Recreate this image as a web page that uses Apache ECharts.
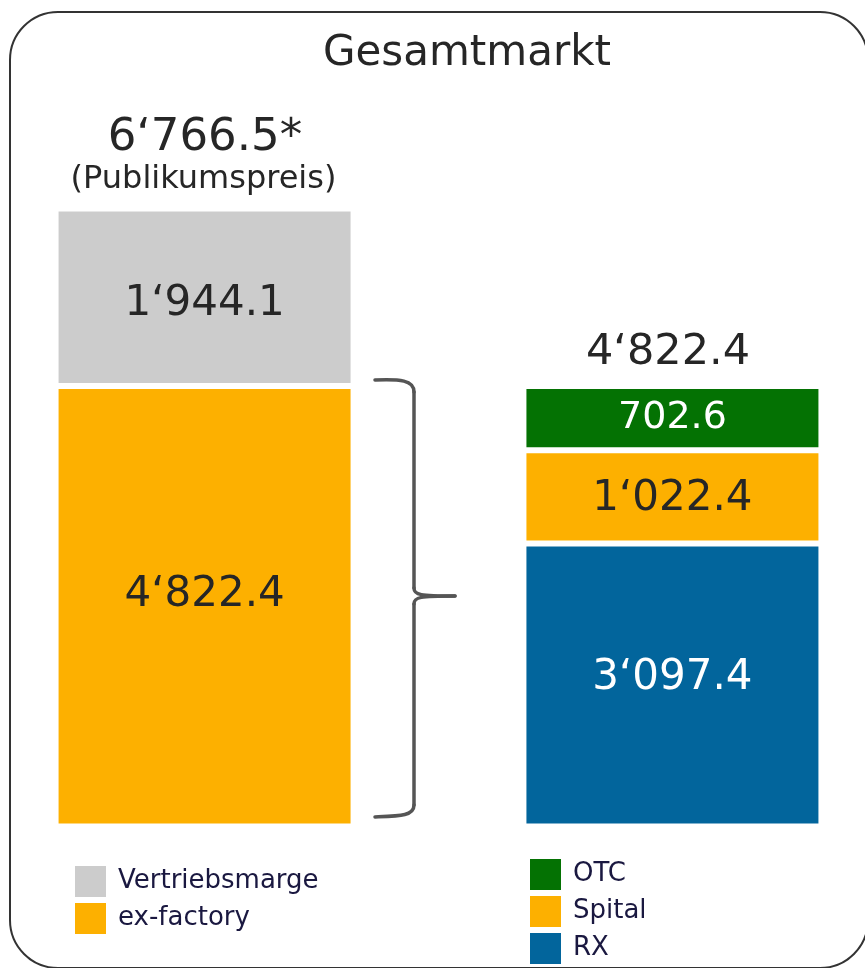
<!DOCTYPE html>
<html><head><meta charset="utf-8">
<script src="https://cdn.jsdelivr.net/npm/echarts@6/dist/echarts.min.js"></script>
<style>html,body{margin:0;padding:0;background:#fff}#c{width:865px;height:968px}</style>
</head><body><div id="c"></div>
<script>
const title = 'Gesamtmarkt';
const leftNames = ['ex-factory', 'Vertriebsmarge'];
const leftValues = [4822.4, 1944.1];
const rightNames = ['RX', 'Spital', 'OTC'];
const rightValues = [3097.4, 1022.4, 702.6];
const leftNote = '(Publikumspreis)';
const colors = {'Vertriebsmarge':'#cccccc','ex-factory':'#fdb000','OTC':'#047203','Spital':'#fdb000','RX':'#02659c'};
const labelColors = {'Vertriebsmarge':'#262626','ex-factory':'#262626','OTC':'#ffffff','Spital':'#262626','RX':'#ffffff'};
const labelSizes = {'Vertriebsmarge':42,'ex-factory':42,'OTC':38,'Spital':42,'RX':42};
const labelOffsets = {'Vertriebsmarge':[0,7],'ex-factory':[0,-11],'OTC':[0,0],'Spital':[0,2],'RX':[0,-7]};

function fmt(v){
  const s = v.toFixed(1).split('.');
  return s[0].replace(/\B(?=(\d{3})+(?!\d))/g, '\u2018') + '.' + s[1];
}
const leftTotal = leftValues.reduce((a,b)=>a+b,0);
const rightTotal = rightValues.reduce((a,b)=>a+b,0);
const FONT = 'DejaVu Sans';

const series = [];
leftNames.forEach((n,i)=>series.push({name:n,type:'bar',stack:'L',data:[leftValues[i]]}));
rightNames.forEach((n,i)=>series.push({name:n,type:'bar',stack:'R',data:[rightValues[i]]}));
series.forEach(s=>{
  s.barWidth = 298;
  s.barGap = '57%';
  s.itemStyle = {color:colors[s.name], borderColor:'#ffffff', borderWidth:3};
  s.label = {show:true, position:'inside', formatter:p=>fmt(p.value), color:labelColors[s.name], fontSize:labelSizes[s.name], fontFamily:FONT, offset:labelOffsets[s.name]};
  s.emphasis = {disabled:true};
});

const bs = {fill:null, stroke:'#555555', lineWidth:3.5, lineCap:'round'};
const legendText = {fontFamily:FONT, fontSize:26, lineHeight:24, color:'#1a1840', padding:[6,0,0,7]};
const legendItem = {borderWidth:0};
const chart = echarts.init(document.getElementById('c'), null, {renderer:'canvas'});
chart.setOption({
  animation:false,
  backgroundColor:'#ffffff',
  title:[
    {text:title, left:462, top:28, textAlign:'center', textStyle:{fontFamily:FONT, fontSize:42, fontWeight:'normal', color:'#262626'}},
    {text:fmt(leftTotal)+'*', left:200, top:111, textAlign:'center', textStyle:{fontFamily:FONT, fontSize:45, fontWeight:'normal', color:'#262626'}},
    {text:leftNote, left:198.5, top:159, textAlign:'center', textStyle:{fontFamily:FONT, fontSize:32, fontWeight:'normal', color:'#262626'}},
    {text:fmt(rightTotal), left:663, top:326, textAlign:'center', textStyle:{fontFamily:FONT, fontSize:43, fontWeight:'normal', color:'#262626'}}
  ],
  grid:{left:55.5, right:43.5, top:208.5, bottom:141.5},
  xAxis:{type:'category', data:[''], show:false},
  yAxis:{type:'value', min:0, max:leftTotal, show:false},
  legend:[
    {data:['Vertriebsmarge','ex-factory'], orient:'vertical', left:75, top:866, padding:0, height:200, itemWidth:31, itemHeight:31, itemGap:6, icon:'rect', selectedMode:false, itemStyle:legendItem, textStyle:legendText},
    {data:['OTC','Spital','RX'], orient:'vertical', left:530, top:859, padding:0, height:200, itemWidth:31, itemHeight:31, itemGap:6, icon:'rect', selectedMode:false, itemStyle:legendItem, textStyle:legendText}
  ],
  graphic:[
    {type:'rect', shape:{x:10, y:12, width:858, height:956, r:48}, style:{fill:null, stroke:'#333333', lineWidth:2}, silent:true},
    {type:'bezierCurve', shape:{x1:375,y1:380,cpx1:400,cpy1:379,cpx2:414,cpy2:380,x2:414,y2:392}, style:bs, silent:true},
    {type:'line', shape:{x1:414,y1:392,x2:414,y2:588}, style:bs, silent:true},
    {type:'bezierCurve', shape:{x1:414,y1:588,cpx1:414,cpy1:595,cpx2:420,cpy2:596,x2:455,y2:596}, style:bs, silent:true},
    {type:'bezierCurve', shape:{x1:455,y1:596,cpx1:420,cpy1:596,cpx2:414,cpy2:597,x2:414,y2:604}, style:bs, silent:true},
    {type:'line', shape:{x1:414,y1:604,x2:414,y2:805}, style:bs, silent:true},
    {type:'bezierCurve', shape:{x1:414,y1:805,cpx1:414,cpy1:816,cpx2:400,cpy2:816,x2:375,y2:817}, style:bs, silent:true}
  ],
  series:series
});
</script></body></html>
